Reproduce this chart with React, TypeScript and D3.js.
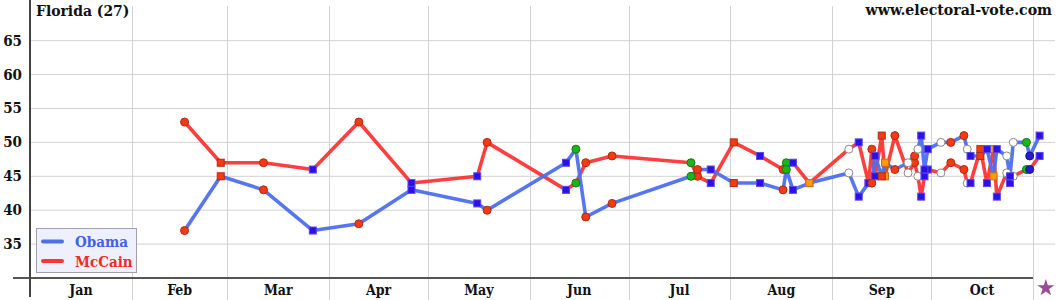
import React from "react";
import * as d3 from "d3";

const pollDates = [
  "2008-02-17", "2008-02-28", "2008-03-12", "2008-03-27", "2008-04-10", "2008-04-26",
  "2008-05-16", "2008-05-19", "2008-06-12", "2008-06-15", "2008-06-18", "2008-06-26",
  "2008-07-20", "2008-07-22", "2008-07-26", "2008-08-02", "2008-08-10", "2008-08-17",
  "2008-08-18", "2008-08-20", "2008-08-25", "2008-09-06", "2008-09-09", "2008-09-12",
  "2008-09-13", "2008-09-14", "2008-09-16", "2008-09-17", "2008-09-20", "2008-09-24",
  "2008-09-26", "2008-09-27", "2008-09-28", "2008-09-29", "2008-09-30", "2008-10-04",
  "2008-10-07", "2008-10-11", "2008-10-12", "2008-10-13", "2008-10-16", "2008-10-18",
  "2008-10-20", "2008-10-21", "2008-10-24", "2008-10-25", "2008-10-26", "2008-10-30",
  "2008-10-31", "2008-11-03",
];
const obama = [
  37, 45, 43, 37, 38, 43, 41, 40, 47, 49, 39, 41,
  45, 46, 46, 44, 44, 43, 46, 43, 44, 45.5, 42, 44,
  44, 48, 45, 47, 46, 47, 48, 49, 51, 46, 49, 50,
  50, 51, 49, 48, 48, 49, 45, 49, 48, 45, 50, 50,
  48, 51,
];
const mccain = [
  53, 47, 47, 46, 53, 44, 45, 50, 43, 44, 47, 48,
  47, 45, 44, 50, 48, 46, 47, 47, 44, 49, 50, 44,
  49, 45, 51, 45, 51, 45.5, 47, 45, 42, 45, 46, 45.5,
  47, 46, 44, 44, 49, 44, 49, 42, 45.5, 44, 45, 46,
  46, 48,
];
const pollMarkers = [
  "rc", "rs", "rc", "bs", "rc", "bs", "bs", "rc", "bs", "gc", "rc", "rc",
  "gc", "rc", "bs", "rs", "bs", "rc", "gc", "bs", "os", "hc", "bs", "bs",
  "rc", "bs", "rs", "os", "rc", "hc", "rc", "hc", "bs", "bs", "bs", "hc",
  "rc", "rc", "hc", "bs", "rs", "bs", "os", "bs", "hc", "bs", "hc", "gc",
  "dc", "bs",
];
const yTicks = [35, 40, 45, 50, 55, 60, 65];
const monthLabels = ["Jan", "Feb", "Mar", "Apr", "May", "Jun", "Jul", "Aug", "Sep", "Oct"];
const electionDay = "2008-11-04";
const seriesNames = ["Obama", "McCain"];

const FONT = "'DejaVu Serif Condensed', 'DejaVu Serif', serif";
const OBAMA_LINE = "#4d6ff0";
const MCCAIN_LINE = "#ff3535";

const markerStyle: Record<string, { shape: string; fill: string; stroke: string }> = {
  rc: { shape: "circle", fill: "#f43a14", stroke: "#b02a10" },
  rs: { shape: "square", fill: "#f23a14", stroke: "#b02a10" },
  bs: { shape: "square", fill: "#2c10e6", stroke: "#5a48f0" },
  gc: { shape: "circle", fill: "#20b41c", stroke: "#137a10" },
  os: { shape: "square", fill: "#ff9a10", stroke: "#c87010" },
  hc: { shape: "circle", fill: "#ffffff", stroke: "#8a8a8a" },
  dc: { shape: "circle", fill: "#2a18d0", stroke: "#1a1090" },
};

const parse = d3.timeParse("%Y-%m-%d");

export default function App() {
  const W = 1060;
  const H = 300;
  const x = d3.scaleTime().domain([new Date(2008, 0, 1), new Date(2008, 10, 1)]).range([30, 1033]);
  const y = d3.scaleLinear().domain([30, 71]).range([278, 0]);

  const data = pollDates.map((d, i) => ({
    date: parse(d) as Date,
    o: obama[i],
    m: mccain[i],
    mk: pollMarkers[i],
  }));

  const lineO = d3
    .line<any>()
    .x((d) => x(d.date))
    .y((d) => y(d.o));
  const lineM = d3
    .line<any>()
    .x((d) => x(d.date))
    .y((d) => y(d.m));

  const monthStarts = d3.timeMonth.range(new Date(2008, 0, 1), new Date(2008, 11, 1));
  const gridMonths = monthStarts.slice(1, 11);

  const renderMarker = (cx: number, cy: number, mk: string, key: string) => {
    const s = markerStyle[mk];
    if (s.shape === "circle") {
      return <circle key={key} cx={cx} cy={cy} r={4} fill={s.fill} stroke={s.stroke} strokeWidth={1} />;
    }
    return (
      <rect key={key} x={cx - 3.5} y={cy - 3.5} width={7} height={7} fill={s.fill} stroke={s.stroke} strokeWidth={1} />
    );
  };

  const star = d3.symbol().type(d3.symbolStar).size(90)();

  return (
    <svg width={W} height={H} style={{ display: "block", position: "absolute", left: 0, top: 0 }}>
      <rect x={0} y={0} width={W} height={H} fill="#ffffff" />
      {yTicks.map((t) => (
        <line key={"h" + t} x1={30} x2={1055} y1={y(t)} y2={y(t)} stroke="#d2d2d2" strokeWidth={1} />
      ))}
      {gridMonths.map((m, i) => (
        <line key={"v" + i} x1={Math.round(x(m)) + 0.5} x2={Math.round(x(m)) + 0.5} y1={6} y2={300} stroke="#d2d2d2" strokeWidth={1} />
      ))}
      <line x1={13} x2={1033} y1={y(30)} y2={y(30)} stroke="#555" strokeWidth={2} />
      <line x1={30} x2={30} y1={0} y2={297} stroke="#444" strokeWidth={2} />

      {yTicks.map((t) => (
        <text key={"yl" + t} x={22} y={y(t) + 5} textAnchor="end" fontFamily={FONT} fontWeight="bold" fontSize={15} fill="#111">
          {t}
        </text>
      ))}
      {monthLabels.map((lab, i) => {
        const a = x(monthStarts[i]);
        const b = x(monthStarts[i + 1]);
        return (
          <text key={"m" + lab} x={(a + b) / 2} y={295} textAnchor="middle" fontFamily={FONT} fontWeight="bold" fontSize={14} fill="#111">
            {lab}
          </text>
        );
      })}
      <path d={star as string} transform={`translate(${x(parse(electionDay) as Date) + 3},${288})`} fill="#9a4a96" />

      <path d={lineM(data) as string} fill="none" stroke={MCCAIN_LINE} strokeWidth={3.6} strokeLinejoin="round" strokeOpacity={0.95} />
      <path d={lineO(data) as string} fill="none" stroke={OBAMA_LINE} strokeWidth={3.6} strokeLinejoin="round" strokeOpacity={0.95} />

      {data.map((d, i) => renderMarker(x(d.date), y(d.m), d.mk, "mm" + i))}
      {data.map((d, i) => renderMarker(x(d.date), y(d.o), d.mk, "mo" + i))}

      <text x={36} y={16} fontFamily={FONT} fontWeight="bold" fontSize={15.5} fill="#111">
        Florida (27)
      </text>
      <text x={1052} y={15} textAnchor="end" fontFamily={FONT} fontWeight="bold" fontSize={15.7} fill="#111">
        www.electoral-vote.com
      </text>

      <rect x={36.5} y={228.5} width={100} height={44} fill="#eff0fd" stroke="#a0a0b0" strokeWidth={1} />
      <line x1={43} x2={62} y1={241.5} y2={241.5} stroke={OBAMA_LINE} strokeWidth={4} strokeLinecap="round" />
      <line x1={43} x2={62} y1={261} y2={261} stroke={MCCAIN_LINE} strokeWidth={4} strokeLinecap="round" />
      <text x={75} y={247} fontFamily={FONT} fontWeight="bold" fontSize={15} fill="#4062ea">
        {seriesNames[0]}
      </text>
      <text x={75} y={267} fontFamily={FONT} fontWeight="bold" fontSize={15} fill="#ee2a2a">
        {seriesNames[1]}
      </text>
    </svg>
  );
}
